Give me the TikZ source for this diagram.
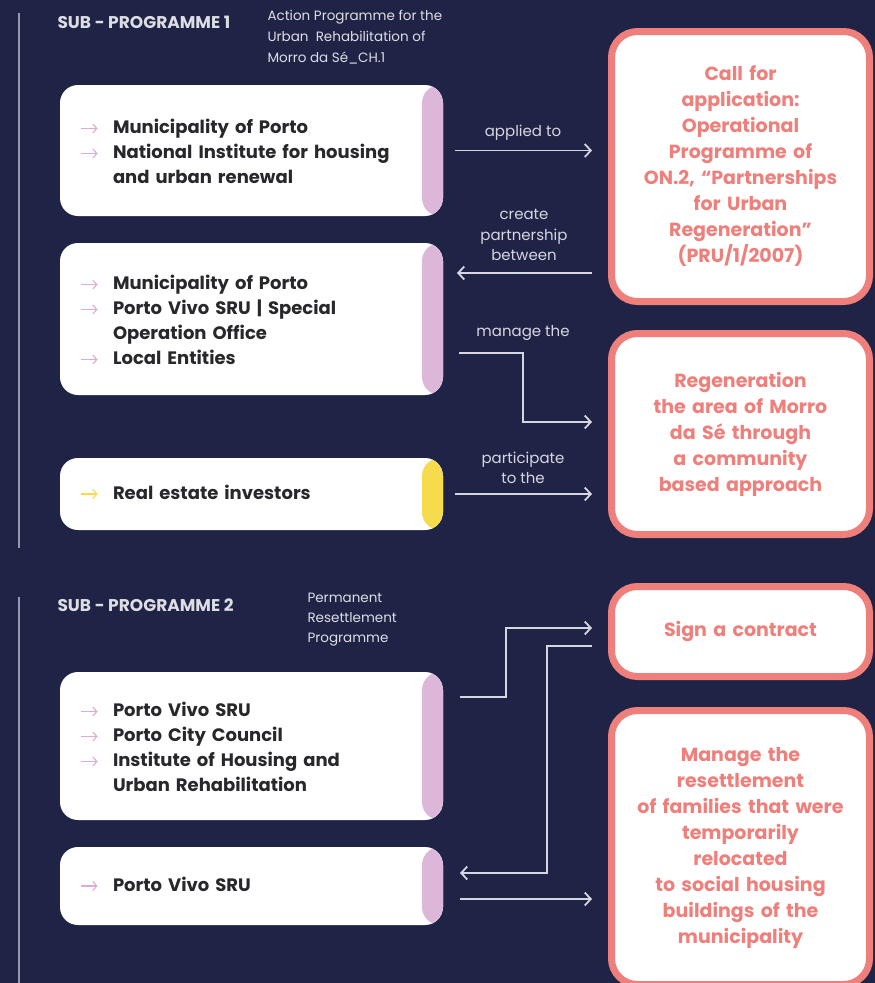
\documentclass[tikz,border=0pt]{standalone}
\usepackage{fontspec}
\setmainfont{Poppins}
\usetikzlibrary{arrows.meta}
\definecolor{bgnavy}{RGB}{31,36,71}
\definecolor{rulegray}{RGB}{150,153,172}
\definecolor{arrowgray}{RGB}{214,214,224}
\definecolor{lilac}{RGB}{221,183,218}
\definecolor{bulletpink}{RGB}{222,170,216}
\definecolor{sunny}{RGB}{246,220,76}
\definecolor{salmon}{RGB}{239,127,123}
\definecolor{boxtext}{RGB}{40,40,44}
\newcommand{\arw}[1][bulletpink]{\makebox[33pt][l]{\tikz[baseline=0pt,x=1pt,y=1pt]
  \draw[#1, line width=1.1pt, -{Straight Barb[length=4pt,width=9pt,line width=1.1pt]}] (0,5) -- (17,5);}}
\newcommand{\nudgedown}[1]{\raisebox{-3pt}[\height][\depth]{#1}}
\tikzstyle{actor} = [rounded corners=18pt, fill=white, outer sep=0pt, anchor=north west,
  text width=343pt, inner xsep=20pt, inner ysep=0pt, align=left, text=boxtext,
  font=\fontsize{18}{25}\selectfont\bfseries]
\tikzstyle{goal} = [rounded corners=26pt, fill=white, draw=salmon, line width=7pt,
  outer sep=0pt, anchor=north west, text width=238pt, inner xsep=10pt, inner ysep=0pt,
  align=center, text=salmon, font=\fontsize{19}{26}\selectfont\bfseries]
\tikzstyle{flow} = [draw=arrowgray, line width=1.8pt, rounded corners=0pt,
  -{Straight Barb[length=6pt,width=13pt,line width=1.8pt]}]
\tikzstyle{lbl} = [text=arrowgray, align=center, font=\fontsize{15}{20.5}\selectfont]
\tikzstyle{head} = [text=white!85!bgnavy, anchor=west, font=\fontsize{17}{18}\selectfont\bfseries]
\tikzstyle{sub} = [text=white!85!bgnavy, anchor=west, align=left, font=\fontsize{13.5}{21}\selectfont]
\tikzset{strip/.style={path picture={\fill[#1] ([xshift=-21pt]path picture bounding box.north east)
  rectangle (path picture bounding box.south east);}}}

\begin{document}
\begin{tikzpicture}[x=1pt,y=-1pt]
  \useasboundingbox (0,0) rectangle (875,983);
  \fill[bgnavy] (0,0) rectangle (875,983);
  \draw[rulegray, line width=1.5pt] (19,13) -- (19,548);
  \draw[rulegray, line width=1.5pt] (19,597) -- (19,990);

  % sub-programme 1
  \node (h1) at (54,22) [head] {SUB - PROGRAMME 1};
  \node (s1) at (264,37) [sub] {Action Programme for the\\Urban\ \ Rehabilitation of\\Morro da Sé\_CH.1};

  \node (b1) at (60,85) [actor, strip=lilac, minimum height=131pt] {\nudgedown{%
    \begin{tabular}{@{}l@{}l@{}}
    \arw & Municipality of Porto\\
    \arw & National Institute for housing\\
         & and urban renewal
    \end{tabular}}};
  \node (b2) at (60,243) [actor, strip=lilac, minimum height=152pt] {\nudgedown{%
    \begin{tabular}{@{}l@{}l@{}}
    \arw & Municipality of Porto\\
    \arw & Porto Vivo SRU | Special\\
         & Operation Office\\
    \arw & Local Entities
    \end{tabular}}};
  \node (b3) at (60,458) [actor, strip=sunny, minimum height=72pt] {%
    \begin{tabular}{@{}l@{}l@{}}
    \arw[sunny] & Real estate investors
    \end{tabular}};

  \node (ra) at (611.5,31.5) [goal, minimum height=270pt] {Call for\\application:\\Operational\\Programme of\\ON.2, “Partnerships\\for Urban\\Regeneration”\\(PRU/1/2007)};
  \node (rb) at (611.5,333.5) [goal, minimum height=201pt] {Regeneration\\the area of Morro\\da Sé through\\a community\\based approach};

  \node (l1) at (523,133) [lbl] {applied to};
  \node (l2) at (524,235) [lbl] {create\\partnership\\between};
  \node (l3) at (523,333) [lbl] {manage the};
  \node (l4) at (523,468) [lbl] {participate\\to the};

  \coordinate (p1) at ([xshift=12pt]b1.east);
  \coordinate (p2) at ([shift={(14,30)}]b2.north east);
  \coordinate (p3) at ([shift={(16,110)}]b2.north east);
  \coordinate (q3) at ([yshift=12pt]rb.west);
  \draw[flow, shorten >=19.5pt] (p1) -- (p1 -| ra.west);
  \draw[flow, shorten <=19.5pt] (p2 -| ra.west) -- (p2);
  \draw[flow, shorten >=19.5pt] (p3) -| ([xshift=-88.5pt]q3) -- (q3);
  \draw[flow, shorten <=12pt, shorten >=19.5pt] (b3.east) -- (b3.east -| rb.west);

  % sub-programme 2
  \node (h2) at (54,605) [head] {SUB - PROGRAMME 2};
  \node (s2) at (304,620) [sub, font=\fontsize{13.5}{20}\selectfont] {Permanent\\Resettlement\\Programme};

  \node (b4) at (60,672) [actor, strip=lilac, minimum height=148pt] {\nudgedown{%
    \begin{tabular}{@{}l@{}l@{}}
    \arw & Porto Vivo SRU\\
    \arw & Porto City Council\\
    \arw & Institute of Housing and\\
         & Urban Rehabilitation
    \end{tabular}}};
  \node (b5) at (60,847) [actor, strip=lilac, minimum height=78pt] {%
    \begin{tabular}{@{}l@{}l@{}}
    \arw & Porto Vivo SRU
    \end{tabular}};

  \node (rc) at (611.5,586.5) [goal, minimum height=90pt] {Sign a contract};
  \node (rd) at (611.5,710.5) [goal, minimum height=274pt] {Manage the\\resettlement\\of families that were\\temporarily\\relocated\\to social housing\\buildings of the\\municipality};

  \coordinate (p5) at ([shift={(17,25)}]b4.north east);
  \coordinate (q5) at ([yshift=3.5pt]rc.west);
  \coordinate (q6) at ([yshift=-14.5pt]rc.west);
  \coordinate (p6) at ([yshift=13pt]b5.east);
  \coordinate (p7) at ([yshift=-13pt]b5.east);
  \draw[flow, shorten >=19.5pt] (p5) -| ([xshift=-105.5pt]q5) -- (q5);
  \draw[flow, shorten <=19.5pt, shorten >=17pt] (q6) -- ([xshift=-64.5pt]q6) |- (p6);
  \draw[flow, shorten <=17pt, shorten >=19.5pt] (p7) -- (p7 -| rd.west);
\end{tikzpicture}
\end{document}
